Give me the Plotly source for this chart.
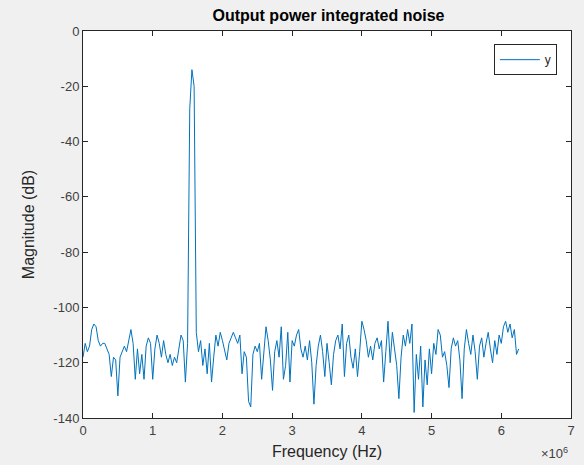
import plotly.graph_objects as go

# Frequency grid (Hz): 201 samples from 0 to 6.25 MHz
freq_start = 0.0
freq_step = 31250.0

magnitude_db = [
    -118, -113, -116, -114, -108, -106, -107, -112, -114, -113,
    -113, -115, -117, -125, -118, -119, -132, -118, -116, -114,
    -116, -112, -108, -113, -126, -115, -124, -117, -126, -114,
    -111, -113, -126, -115, -110, -113, -118, -112, -117, -120,
    -117, -121, -118, -120, -114, -110, -112, -127, -113, -28,
    -14, -20, -109, -116, -112, -121, -115, -124, -113, -127,
    -118, -110, -114, -109, -112, -116, -119, -113, -111, -109,
    -111, -113, -110, -124, -116, -118, -134, -136, -117, -114,
    -116, -113, -126, -115, -107, -112, -119, -130, -116, -112,
    -118, -107, -126, -121, -109, -127, -112, -114, -110, -108,
    -115, -118, -114, -119, -112, -120, -135, -121, -114, -110,
    -116, -125, -113, -120, -128, -117, -112, -110, -115, -106,
    -125, -113, -110, -118, -122, -115, -125, -116, -105, -108,
    -112, -118, -114, -119, -113, -111, -115, -112, -127, -116,
    -105, -120, -109, -115, -121, -133, -118, -110, -114, -108,
    -113, -106, -138, -117, -126, -114, -136, -119, -128, -115,
    -124, -113, -117, -108, -110, -118, -116, -121, -129, -115,
    -111, -114, -112, -119, -133, -115, -108, -113, -117, -110,
    -116, -126, -114, -111, -118, -113, -109, -115, -120, -112,
    -117, -110, -113, -107, -105, -109, -106, -111, -108, -117,
    -115,
]
frequency_hz = [freq_start + i * freq_step for i in range(len(magnitude_db))]

x_tick_values = [0, 1e6, 2e6, 3e6, 4e6, 5e6, 6e6, 7e6]
x_tick_labels = ["0", "1", "2", "3", "4", "5", "6", "7"]
y_tick_values = [0, -20, -40, -60, -80, -100, -120, -140]
y_tick_labels = ["0", "-20", "-40", "-60", "-80", "-100", "-120", "-140"]

axis_color = "#262626"
font_family = "Liberation Sans, Arial, sans-serif"

fig = go.Figure()
fig.add_trace(go.Scatter(
    x=frequency_hz, y=magnitude_db, mode="lines", name="y",
    line=dict(color="#0072BD", width=1),
))

fig.update_layout(
    width=584, height=465,
    paper_bgcolor="#f0f0f0", plot_bgcolor="#ffffff",
    margin=dict(l=83, r=13, t=31, b=47, autoexpand=False),
    font=dict(family=font_family, size=13, color=axis_color),
    title=dict(text="<b>Output power integrated noise</b>", x=0.5625, xanchor="center",
               y=0.966, yanchor="middle", font=dict(size=16, color="#000000")),
    showlegend=True,
    legend=dict(x=0.971, y=0.966, xanchor="right", yanchor="top",
                bgcolor="#ffffff", bordercolor=axis_color, borderwidth=1,
                font=dict(size=12), itemwidth=40, tracegroupgap=0),
)
fig.update_xaxes(
    range=[0, 7e6], tickvals=x_tick_values, ticktext=x_tick_labels, automargin=False,
    ticks="inside", ticklen=5, tickcolor=axis_color, showline=True, linecolor=axis_color,
    linewidth=1, mirror="ticks", showgrid=False, zeroline=False,
    tickfont=dict(size=13, color="#404040"),
    title=dict(text="Frequency (Hz)", standoff=9, font=dict(size=16)),
)
fig.update_yaxes(
    range=[-140, 0], tickvals=y_tick_values, ticktext=y_tick_labels, automargin=False,
    ticks="inside", ticklen=5, tickcolor=axis_color, showline=True, linecolor=axis_color,
    linewidth=1, mirror="ticks", showgrid=False, zeroline=False,
    tickfont=dict(size=13, color="#404040"),
    title=dict(text="Magnitude (dB)", standoff=14, font=dict(size=16)),
)
fig.add_annotation(
    text="\u00d710<sup>6</sup>", xref="paper", yref="paper", x=0.998, y=-0.09,
    xanchor="right", yanchor="middle", showarrow=False, font=dict(size=13, color="#404040"),
)

fig.write_html("out.html", config={"displayModeBar": False},
               post_script="document.body.style.margin='0';")
